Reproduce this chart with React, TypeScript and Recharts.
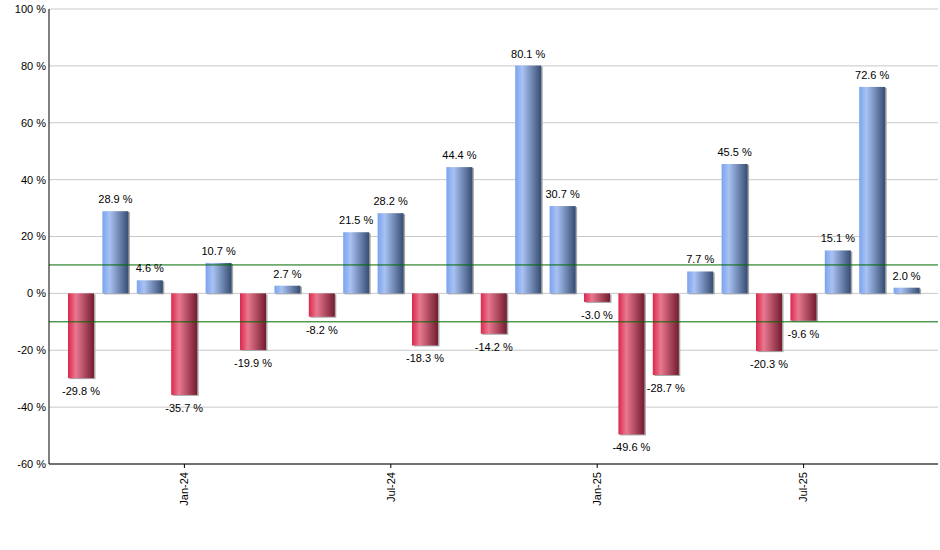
import {
    Bar,
    BarChart,
    CartesianGrid,
    Cell,
    LabelList,
    ReferenceLine,
    XAxis,
    YAxis,
} from 'recharts';

const months = [
    'Oct-23', 'Nov-23', 'Dec-23', 'Jan-24', 'Feb-24', 'Mar-24', 'Apr-24',
    'May-24', 'Jun-24', 'Jul-24', 'Aug-24', 'Sep-24', 'Oct-24', 'Nov-24',
    'Dec-24', 'Jan-25', 'Feb-25', 'Mar-25', 'Apr-25', 'May-25', 'Jun-25',
    'Jul-25', 'Aug-25', 'Sep-25', 'Oct-25',
];

const returns = [
    -29.8, 28.9, 4.6, -35.7, 10.7, -19.9, 2.7, -8.2, 21.5, 28.2, -18.3, 44.4,
    -14.2, 80.1, 30.7, -3.0, -49.6, -28.7, 7.7, 45.5, -20.3, -9.6, 15.1, 72.6,
    2.0,
];

const labeledTicks = ['Jan-24', 'Jul-24', 'Jan-25', 'Jul-25'];
const yTicks = [-60, -40, -20, 0, 20, 40, 60, 80, 100];
const bands = [10, -10];

const FONT = '"Liberation Sans", Arial, sans-serif';

// eslint-disable-next-line @typescript-eslint/no-explicit-any
const MonthTick = ({ x, y, payload }: any) => {
    if (!labeledTicks.includes(payload.value)) return null;
    const axisY = y - 8;
    return (
        <g>
            <line x1={x} y1={axisY} x2={x} y2={axisY + 4} stroke="#000" />
            <text
                x={x}
                y={axisY + 8}
                transform={`rotate(-90, ${x}, ${axisY + 8})`}
                textAnchor="end"
                dy="0.35em"
                fontSize={11}
                fontFamily={FONT}
                fill="#000"
            >
                {payload.value}
            </text>
        </g>
    );
};

// eslint-disable-next-line @typescript-eslint/no-explicit-any
const ShadowBar = ({ x, y, width, height, fill }: any) => {
    const top = Math.min(y, y + height);
    const h = Math.abs(height);
    return (
        <g>
            <rect x={x + 1.5} y={top + 1} width={width} height={h} fill="#a8a8a8" />
            <rect x={x} y={top} width={width} height={h} fill={fill} />
        </g>
    );
};

// eslint-disable-next-line @typescript-eslint/no-explicit-any
const ValueLabel = ({ x, y, width, height, value }: any) => {
    const top = Math.min(y, y + height);
    const bottom = Math.max(y, y + height);
    const cx = x + width / 2;
    const ty = value >= 0 ? top - 8 : bottom + 17;
    return (
        <text
            x={cx}
            y={ty}
            textAnchor="middle"
            fontSize={11}
            fontFamily={FONT}
            fill="#000"
        >
            {`${value.toFixed(1)} %`}
        </text>
    );
};

const App = () => {
    const chartData = months.map((month, i) => ({
        month,
        value: returns[i],
    }));

    return (
        <div style={{ position: 'absolute', left: 0, top: 0 }}>
            <BarChart
                width={940}
                height={550}
                data={chartData}
                margin={{ top: 9, right: 2, bottom: 26, left: 0 }}
                barSize={26}
            >
                <defs>
                    <linearGradient id="blueGrad" x1="0" y1="0" x2="1" y2="0">
                        <stop offset="0%" stopColor="#7aa3ee" />
                        <stop offset="28%" stopColor="#a9c2f3" />
                        <stop offset="100%" stopColor="#364c72" />
                    </linearGradient>
                    <linearGradient id="redGrad" x1="0" y1="0" x2="1" y2="0">
                        <stop offset="0%" stopColor="#dc274c" />
                        <stop offset="30%" stopColor="#e8788f" />
                        <stop offset="100%" stopColor="#741c30" />
                    </linearGradient>
                </defs>
                <CartesianGrid vertical={false} stroke="#c8c8c8" />
                <XAxis
                    dataKey="month"
                    interval={0}
                    height={60}
                    padding={{ left: 15, right: 14 }}
                    axisLine={{ stroke: '#000' }}
                    tickLine={false}
                    tick={<MonthTick />}
                />
                <YAxis
                    width={49}
                    domain={[-60, 100]}
                    ticks={yTicks}
                    interval={0}
                    tickFormatter={(v) => `${v} %`}
                    axisLine={{ stroke: '#000' }}
                    tickLine={false}
                    tickSize={0}
                    tickMargin={3}
                    tick={{ fontSize: 11, fontFamily: FONT, fill: '#000' }}
                />
                {bands.map((b) => (
                    <ReferenceLine key={b} y={b} stroke="#006a00" />
                ))}
                <Bar
                    dataKey="value"
                    isAnimationActive={false}
                    shape={<ShadowBar />}
                >
                    {chartData.map((d, index) => (
                        <Cell
                            key={`cell-${index}`}
                            fill={d.value >= 0 ? 'url(#blueGrad)' : 'url(#redGrad)'}
                        />
                    ))}
                    <LabelList dataKey="value" content={<ValueLabel />} />
                </Bar>
            </BarChart>
        </div>
    );
};

export default App;
